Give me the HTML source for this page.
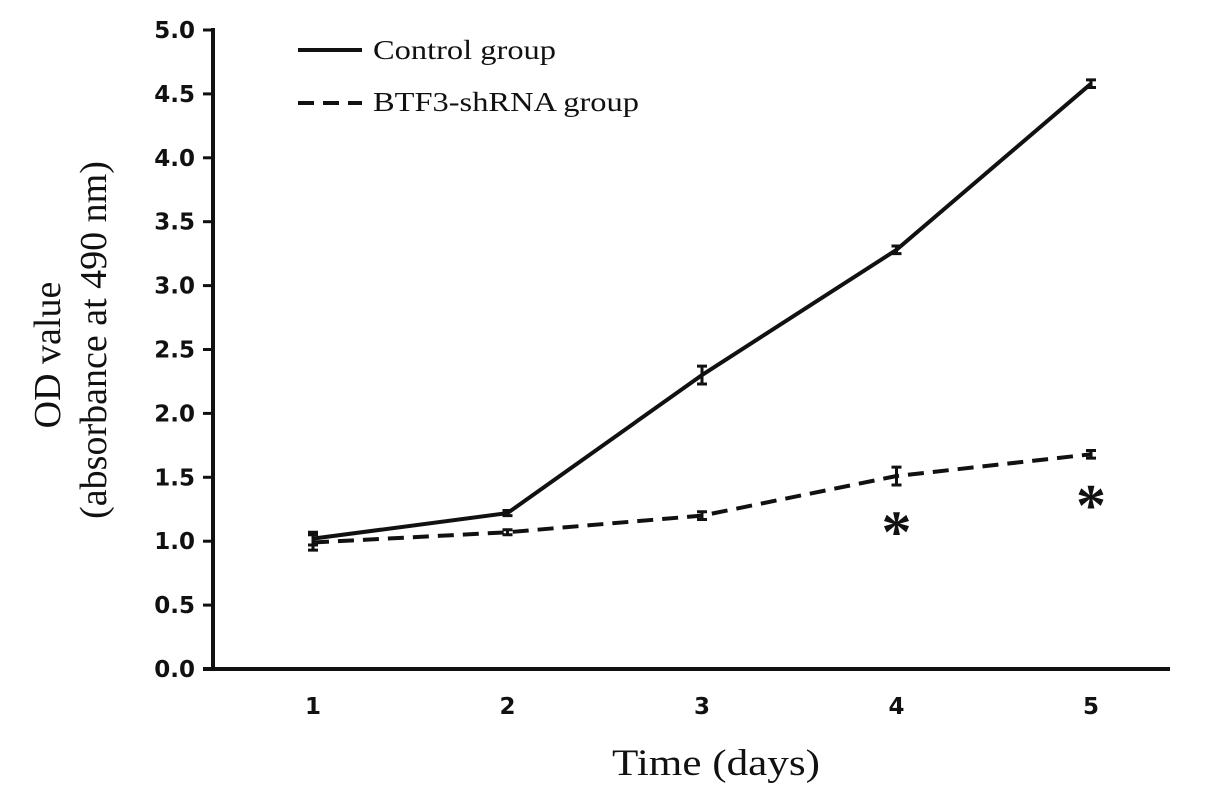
<!DOCTYPE html>
<html><head><meta charset="utf-8"><style>
body{margin:0;background:#fff;width:1205px;height:796px;overflow:hidden}
svg{display:block}
.tk{font-family:"DejaVu Sans",sans-serif;font-weight:bold;font-size:23px;fill:#111}
.sr{font-family:"Liberation Serif",serif;fill:#111}
</style></head><body>
<svg id="chart" width="1205" height="796" xmlns="http://www.w3.org/2000/svg"></svg>
<script>
const days=[1,2,3,4,5];
const control=[1.02,1.22,2.30,3.28,4.58];
const controlErr=[0.05,0.02,0.07,0.03,0.03];
const btf3=[0.99,1.07,1.20,1.51,1.68];
const btf3Err=[0.06,0.02,0.03,0.07,0.03];
const yTicks=[0,0.5,1,1.5,2,2.5,3,3.5,4,4.5,5];
const starDays=[4,5];

const svg=document.getElementById('chart');
const NS='http://www.w3.org/2000/svg';
const X0=213,YB=669,YT=30;
const xs=d=>313+(d-1)*194.5;
const ys=v=>YB-(v/5)*(YB-YT);
function el(t,a,p){const e=document.createElementNS(NS,t);for(const k in a)e.setAttribute(k,a[k]);(p||svg).appendChild(e);return e;}

const yAxis=el('line',{x1:X0,y1:YT-2,x2:X0,y2:YB+2,stroke:'#111','stroke-width':4});


const xAxis=el('line',{x1:X0-10,y1:YB,x2:1170,y2:YB,stroke:'#111','stroke-width':4});



yTicks.forEach(v=>{
  const t=el('line',{x1:X0-10,y1:ys(v),x2:X0,y2:ys(v),stroke:'#111','stroke-width':3});
  
  
  const l=el('text',{x:X0-18,y:ys(v)+8,'text-anchor':'end',class:'tk'});
  l.textContent=v.toFixed(1);
  
  
});
days.forEach(d=>{
  const l=el('text',{x:xs(d),y:714,'text-anchor':'middle',class:'tk'});
  l.textContent=d;
  
  
});

function series(vals,errs,dash,name){
  const p=el('polyline',{points:vals.map((v,i)=>xs(days[i])+','+ys(v)).join(' '),fill:'none',stroke:'#111','stroke-width':4,'stroke-dasharray':dash||'none'});
  
  
  vals.forEach((v,i)=>{
    const x=xs(days[i]),y1=ys(v+errs[i]),y2=ys(v-errs[i]);
    const g=el('path',{d:`M${x},${y1}V${y2}M${x-5},${y1}H${x+5}M${x-5},${y2}H${x+5}`,stroke:'#111','stroke-width':3,fill:'none'});
    
    
  });
}
series(control,controlErr,null,'control');
series(btf3,btf3Err,'16,9','btf3-shrna');

starDays.forEach(d=>{
  const i=days.indexOf(d);
  const s=el('text',{x:xs(d),y:ys(btf3[i])+(d===4?76:71),'text-anchor':'middle',class:'sr','font-size':60,'font-weight':'bold'});
  s.textContent='*';
  
  
});

const lg=el('g',{});


el('line',{x1:298,y1:50,x2:362,y2:50,stroke:'#111','stroke-width':4},lg);
el('line',{x1:298,y1:103,x2:362,y2:103,stroke:'#111','stroke-width':4,'stroke-dasharray':'16,9'},lg);
const t1=el('text',{x:373,y:59,class:'sr','font-size':27,textLength:183,lengthAdjust:'spacingAndGlyphs'},lg);t1.textContent='Control group';


const t2=el('text',{x:373,y:111,class:'sr','font-size':27,textLength:266,lengthAdjust:'spacingAndGlyphs'},lg);t2.textContent='BTF3-shRNA group';



const xt=el('text',{x:612,y:775,class:'sr','font-size':37,textLength:208,lengthAdjust:'spacingAndGlyphs'});
xt.textContent='Time (days)';


const yt=el('text',{transform:'translate(60,355) rotate(-90)','text-anchor':'middle',class:'sr','font-size':38});
yt.textContent='OD value';


const yt2=el('text',{transform:'translate(106,340) rotate(-90)','text-anchor':'middle',class:'sr','font-size':38});
yt2.textContent='(absorbance at 490 nm)';


</script>
</body></html>
